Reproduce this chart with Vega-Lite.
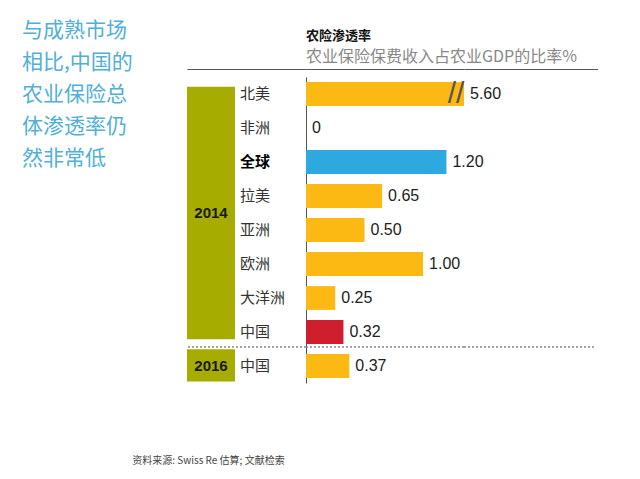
{
  "$schema": "https://vega.github.io/schema/vega-lite/v6.json",
  "background": "white",
  "padding": {"left": 22, "top": 20, "right": 0, "bottom": 0},
  "autosize": {"type": "pad"},
  "config": {"view": {"stroke": null}, "font": "Noto Sans CJK SC"},
  "datasets": {
    "rates": [
      {"year": 2014, "region": "北美", "key": "2014 北美", "value": 5.6},
      {"year": 2014, "region": "非洲", "key": "2014 非洲", "value": 0},
      {"year": 2014, "region": "全球", "key": "2014 全球", "value": 1.2},
      {"year": 2014, "region": "拉美", "key": "2014 拉美", "value": 0.65},
      {"year": 2014, "region": "亚洲", "key": "2014 亚洲", "value": 0.5},
      {"year": 2014, "region": "欧洲", "key": "2014 欧洲", "value": 1.0},
      {"year": 2014, "region": "大洋洲", "key": "2014 大洋洲", "value": 0.25},
      {"year": 2014, "region": "中国", "key": "2014 中国", "value": 0.32},
      {"year": 2016, "region": "中国", "key": "2016 中国", "value": 0.37}
    ],
    "years": [
      {"year": "2014", "first": "2014 北美", "last": "2014 中国"},
      {"year": "2016", "first": "2016 中国", "last": "2016 中国"}
    ]
  },
  "title": {
    "text": ["与成熟市场", "相比,中国的", "农业保险总", "体渗透率仍", "然非常低"],
    "orient": "none", "anchor": "start", "baseline": "top",
    "dx": -165, "dy": -57,
    "fontSize": 21, "lineHeight": 32, "color": "#4fb0d8", "fontWeight": "normal"
  },
  "bounds": "flush",
  "spacing": 0,
  "hconcat": [
    {
      "width": 119,
      "height": 306,
      "title": {
        "text": "资料来源: Swiss Re 估算; 文献检索",
        "orient": "bottom", "anchor": "start", "offset": 73, "dx": -54,
        "fontSize": 10, "fontWeight": "normal", "color": "#444"
      },
      "layer": [
        {
          "data": {"name": "years"},
          "transform": [{"filter": "datum.year == '2014'"}],
          "mark": {"type": "rect", "color": "#a6ac00"},
          "encoding": {
            "x": {"datum": "年份", "type": "nominal",
              "scale": {"domain": ["年份", "地区"], "paddingInner": 0.094, "paddingOuter": 0.17, "align": 0},
              "axis": {"orient": "top", "labels": false, "ticks": false, "title": null, "grid": false, "domainColor": "#555", "offset": 8}},
            "y": {"field": "first", "type": "nominal", "bandPosition": 0.2,
              "scale": {"domain": ["2014 北美", "2014 非洲", "2014 全球", "2014 拉美", "2014 亚洲", "2014 欧洲", "2014 大洋洲", "2014 中国", "2016 中国"], "paddingInner": 0.3, "paddingOuter": 0.15},
              "axis": null},
            "y2": {"field": "last", "bandPosition": 0.8}
          }
        },
        {
          "data": {"name": "years"},
          "transform": [{"filter": "datum.year == '2016'"}],
          "mark": {"type": "rect", "color": "#a6ac00"},
          "encoding": {
            "x": {"datum": "年份", "type": "nominal"},
            "y": {"field": "first", "type": "nominal", "bandPosition": -0.2},
            "y2": {"field": "last", "bandPosition": 1.15}
          }
        },
        {
          "data": {"name": "years"},
          "transform": [{"filter": "datum.year == '2014'"}],
          "mark": {"type": "text", "fontSize": 15, "fontWeight": "bold", "color": "#1a1a1a", "font": "Liberation Sans", "baseline": "middle"},
          "encoding": {
            "x": {"datum": "年份", "type": "nominal"},
            "y": {"field": "first", "type": "nominal", "bandPosition": 5.52},
            "text": {"field": "year"}
          }
        },
        {
          "data": {"name": "years"},
          "transform": [{"filter": "datum.year == '2016'"}],
          "mark": {"type": "text", "fontSize": 15, "fontWeight": "bold", "color": "#1a1a1a", "font": "Liberation Sans", "baseline": "middle"},
          "encoding": {
            "x": {"datum": "年份", "type": "nominal"},
            "y": {"field": "first", "type": "nominal", "bandPosition": 0.5},
            "text": {"field": "year"}
          }
        },
        {
          "data": {"name": "rates"},
          "transform": [{"filter": "datum.region != '全球'"}],
          "mark": {"type": "text", "fontSize": 15, "color": "#333", "align": "left", "baseline": "middle"},
          "encoding": {
            "x": {"datum": "地区", "type": "nominal", "bandPosition": 0},
            "y": {"field": "key", "type": "nominal"},
            "text": {"field": "region"}
          }
        },
        {
          "data": {"name": "rates"},
          "transform": [{"filter": "datum.region == '全球'"}],
          "mark": {"type": "text", "fontSize": 15, "fontWeight": "bold", "color": "#000", "align": "left", "baseline": "middle"},
          "encoding": {
            "x": {"datum": "地区", "type": "nominal", "bandPosition": 0},
            "y": {"field": "key", "type": "nominal"},
            "text": {"field": "region"}
          }
        },
        {
          "data": {"name": "years"},
          "transform": [{"filter": "datum.year == '2016'"}],
          "mark": {"type": "rule", "color": "#888", "strokeDash": [2, 2], "strokeWidth": 1.5},
          "encoding": {
            "y": {"field": "first", "type": "nominal", "bandPosition": -0.3}
          }
        }
      ]
    },
    {
      "width": 158,
      "height": 306,
      "title": {
        "text": "农险渗透率",
        "subtitle": "农业保险保费收入占农业GDP的比率%",
        "anchor": "start", "frame": "group",
        "fontSize": 13, "fontWeight": "bold", "color": "#111",
        "subtitleFontSize": 16, "subtitleColor": "#888", "subtitlePadding": 6, "offset": 4
      },
      "layer": [
        {
          "data": {"name": "rates"},
          "mark": {"type": "bar"},
          "encoding": {
            "x": {"field": "value", "type": "quantitative",
              "scale": {"domain": [0, 1.35], "clamp": true, "nice": false},
              "axis": {"orient": "top", "labels": false, "ticks": false, "title": null, "grid": false, "domainColor": "#555", "offset": 8}},
            "y": {"field": "key", "type": "nominal",
              "scale": {"domain": ["2014 北美", "2014 非洲", "2014 全球", "2014 拉美", "2014 亚洲", "2014 欧洲", "2014 大洋洲", "2014 中国", "2016 中国"], "paddingInner": 0.3, "paddingOuter": 0.15},
              "axis": {"labels": false, "ticks": false, "title": null, "grid": false, "domainColor": "#555"}},
            "color": {
              "condition": [
                {"test": "datum.region == '全球'", "value": "#2ea9df"},
                {"test": "datum.region == '中国' && datum.year == 2014", "value": "#cf1f2e"}
              ],
              "value": "#fdb913"
            }
          }
        },
        {
          "data": {"name": "rates"},
          "mark": {"type": "text", "fontSize": 16, "font": "Liberation Sans", "color": "#222", "align": "left", "baseline": "middle", "dx": 6},
          "encoding": {
            "x": {"field": "value", "type": "quantitative"},
            "y": {"field": "key", "type": "nominal"},
            "text": {
              "condition": {"test": "datum.value == 0", "value": "0"},
              "field": "value", "type": "quantitative", "format": ".2f"
            }
          }
        },
        {
          "data": {"name": "rates"},
          "transform": [{"filter": "datum.value > 1.35"}],
          "mark": {"type": "text", "text": "//", "fontSize": 30, "font": "Liberation Sans", "color": "#555", "align": "center", "baseline": "middle", "dx": -8},
          "encoding": {
            "x": {"field": "value", "type": "quantitative"},
            "y": {"field": "key", "type": "nominal"}
          }
        },
        {
          "data": {"name": "years"},
          "transform": [{"filter": "datum.year == '2016'"}],
          "mark": {"type": "rule", "color": "#888", "strokeDash": [2, 2], "strokeWidth": 1.5},
          "encoding": {
            "y": {"field": "first", "type": "nominal", "bandPosition": -0.3}
          }
        }
      ]
    },
    {
      "width": 134,
      "height": 306,
      "data": {"name": "years"},
      "transform": [{"filter": "datum.year == '2016'"}],
      "mark": {"type": "rule", "color": "#888", "strokeDash": [2, 2], "strokeWidth": 1.5},
      "encoding": {
        "x": {"datum": 0, "type": "quantitative", "scale": {"domain": [0, 1]},
          "axis": {"orient": "top", "labels": false, "ticks": false, "title": null, "grid": false, "domainColor": "#555", "offset": 8}},
        "x2": {"datum": 0.97},
        "y": {"field": "first", "type": "nominal", "bandPosition": -0.3,
          "scale": {"domain": ["2014 北美", "2014 非洲", "2014 全球", "2014 拉美", "2014 亚洲", "2014 欧洲", "2014 大洋洲", "2014 中国", "2016 中国"], "paddingInner": 0.3, "paddingOuter": 0.15},
          "axis": null}
      }
    }
  ]
}
